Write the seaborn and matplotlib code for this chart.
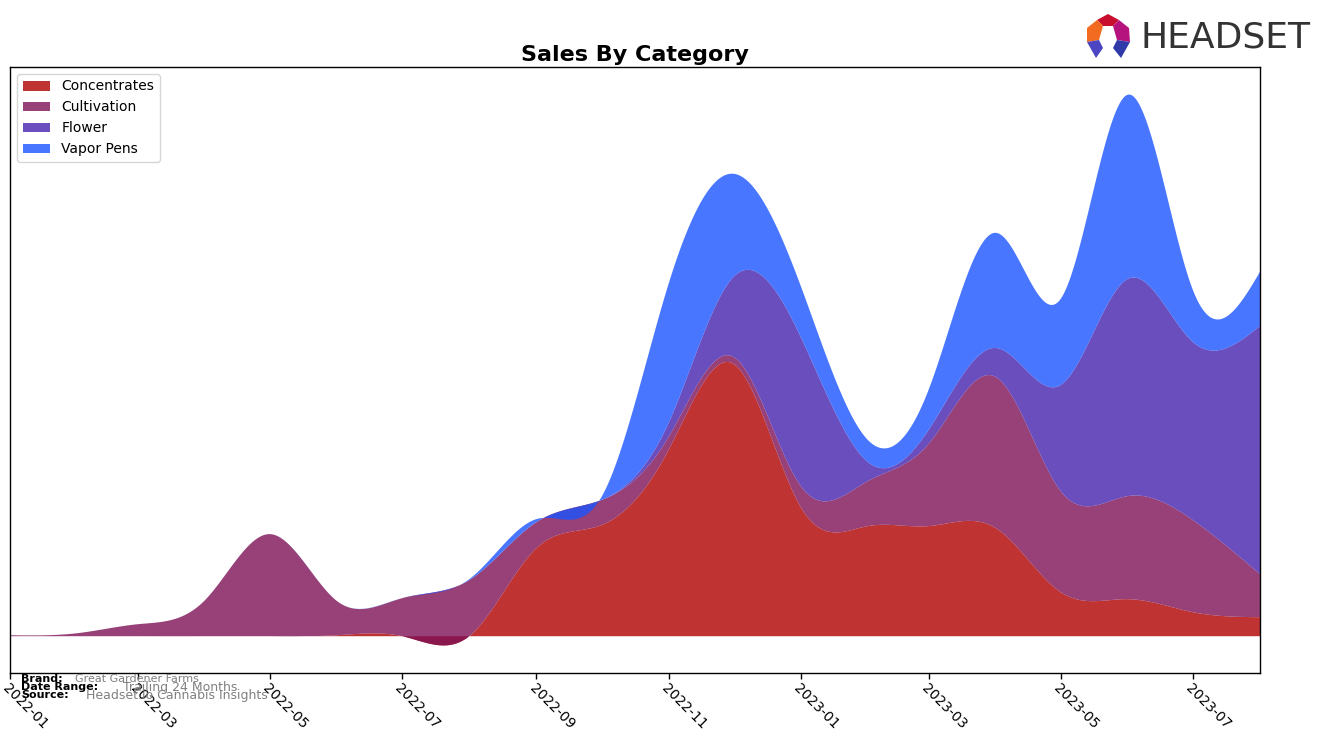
import numpy as np
import pandas as pd
import matplotlib
matplotlib.use("Agg")
import matplotlib.pyplot as plt
import matplotlib.dates as mdates
from matplotlib.patches import Polygon
import seaborn as sns

# ---- data (monthly sales, arbitrary units) ----
months = pd.date_range("2022-01-01", "2023-08-01", freq="MS")
categories = ["Concentrates", "Cultivation", "Flower", "Vapor Pens"]
concentrates = [0, 0, 0, 0, 0, 1, 0, 0, 88, 111, 186, 272, 129, 110, 110, 108, 44, 37, 24, 19]
cultivation = [1, 3, 12, 36, 102, 34, 38, 56, 26, 25, 13, 7, 21, 45, 82, 151, 101, 103, 92, 43]
flower = [0, 0, 0, 0, 0, 0, 0, 0, 0, 0, 14, 80, 149, 19, 14, 29, 106, 217, 178, 248]
vapor_pens = [0, 0, 0, 0, 0, 0, 0, 1, 3, 3, 139, 103, 51, 22, 40, 115, 86, 184, 52, 54]
colors = ["#b00000", "#7d1256", "#4522ae", "#1a54ff"]

brand = "Great Gardener Farms"
date_range = "Trailing 24 Months"
source = "Headset.io Cannabis Insights"


def natural_cubic(x, y, xs):
    x = np.asarray(x, float)
    y = np.asarray(y, float)
    n = len(x)
    h = np.diff(x)
    A = np.zeros((n, n))
    b = np.zeros(n)
    A[0, 0] = 1
    A[-1, -1] = 1
    for i in range(1, n - 1):
        A[i, i - 1] = h[i - 1]
        A[i, i] = 2 * (h[i - 1] + h[i])
        A[i, i + 1] = h[i]
        b[i] = 3 * ((y[i + 1] - y[i]) / h[i] - (y[i] - y[i - 1]) / h[i - 1])
    c = np.linalg.solve(A, b)
    bb = (y[1:] - y[:-1]) / h - h * (2 * c[:-1] + c[1:]) / 3
    d = (c[1:] - c[:-1]) / (3 * h)
    idx = np.clip(np.searchsorted(x, xs) - 1, 0, n - 2)
    dx = xs - x[idx]
    return y[idx] + bb[idx] * dx + c[idx] * dx ** 2 + d[idx] * dx ** 3


xnum = mdates.date2num(months.to_pydatetime())
xs = np.linspace(xnum[0], xnum[-1], 1500)
series = [concentrates, cultivation, flower, vapor_pens]
smooth = [natural_cubic(xnum, s, xs) for s in series]
xdates = mdates.num2date(xs)

sns.set_theme(style="white")
plt.rcParams["font.family"] = ["DejaVu Sans"]
plt.rcParams["text.color"] = "black"
plt.rcParams["xtick.color"] = "black"
plt.rcParams["axes.labelcolor"] = "black"

fig = plt.figure(figsize=(13.24, 7.43), dpi=100)
ax = fig.add_axes([10 / 1324, 1 - 673 / 743, 1250 / 1324, 606 / 743])
polys = ax.stackplot(xdates, *smooth, labels=categories, colors=colors, alpha=0.8)
for p in polys:
    p.set_linewidth(0)
    p.set_edgecolor("none")
ax.set_xlim(xdates[0], xdates[-1])
ax.margins(x=0)

for sp in ax.spines.values():
    sp.set_color("black")
    sp.set_linewidth(1.0)
ax.set_yticks([])
ax.xaxis.set_major_locator(mdates.MonthLocator(bymonth=[1, 3, 5, 7, 9, 11]))
ax.xaxis.set_major_formatter(mdates.DateFormatter("%Y-%m"))
ax.tick_params(axis="x", bottom=True, length=4, width=1, color="black", labelcolor="black",
               labelsize=10, pad=2)
for lab in ax.get_xticklabels():
    lab.set_rotation(-45)
    lab.set_ha("left")
    lab.set_rotation_mode("anchor")

ax.set_title("Sales By Category", fontsize=16, fontweight="bold", pad=4, color="black")
leg = ax.legend(loc="upper left", fontsize=10, frameon=True, borderaxespad=0.5)
for t in leg.get_texts():
    t.set_color("black")

# footer text
fig.text(21 / 1324, 1 - 679 / 743, "Brand:", fontsize=8, fontweight="bold", va="center")
fig.text(75 / 1324, 1 - 679 / 743, brand, fontsize=8, color="gray", va="center")
fig.text(21 / 1324, 1 - 687 / 743, "Date Range:", fontsize=8, fontweight="bold", va="center")
fig.text(123 / 1324, 1 - 687 / 743, date_range, fontsize=9, color="gray", va="center")
fig.text(21 / 1324, 1 - 695 / 743, "Source:", fontsize=8, fontweight="bold", va="center")
fig.text(86 / 1324, 1 - 695 / 743, source, fontsize=9, color="gray", va="center")

# logo
fig.text(1140 / 1324, 1 - 37 / 743, "HEADSET", fontsize=26, color="#333333",
         va="center", ha="left", family="DejaVu Sans")


def P(pts, col):
    fig.patches.append(Polygon([(px / 1324, 1 - py / 743) for px, py in pts], closed=True,
                               transform=fig.transFigure, facecolor=col, edgecolor="none"))


P([(1097, 20), (1108, 14), (1119, 20), (1113, 26), (1103, 26)], "#c8102e")
P([(1087, 28), (1097, 20), (1103, 26), (1099, 40), (1087, 42)], "#f26b21")
P([(1119, 20), (1129, 28), (1130, 42), (1117, 40), (1113, 26)], "#b5137e")
P([(1087, 42), (1099, 40), (1103, 48), (1096, 58)], "#4b45c1")
P([(1130, 42), (1117, 40), (1113, 48), (1121, 58)], "#2f3aa8")

fig.savefig("out.png", dpi=100)
